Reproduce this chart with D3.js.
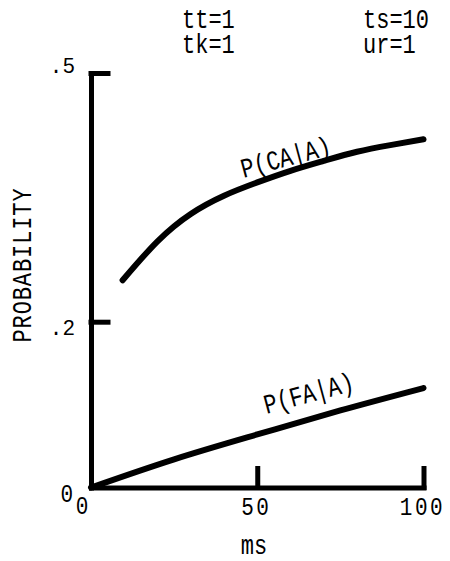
<!DOCTYPE html>
<html>
<head>
<meta charset="utf-8">
<script src="https://cdn.jsdelivr.net/npm/d3@7"></script>
<style>
  html, body { margin: 0; padding: 0; background: #fff; }
  svg text { font-family: "Liberation Mono", "DejaVu Sans Mono", monospace; fill: #000; }
</style>
</head>
<body>
<svg id="chart" width="450" height="561"></svg>
<script>
// data
var msCA = [9.5, 20, 30, 40, 50, 60, 70, 80, 90, 100];
var pCA = [0.250, 0.297, 0.330, 0.352, 0.368, 0.382, 0.394, 0.405, 0.413, 0.420];
var msFA = [0, 25, 50, 75, 100];
var pFA = [0, 0.034, 0.064, 0.093, 0.120];
var yTicks = [0.2, 0.5];
var yTickLabels = ['.2', '.5'];
var xTicks = [50, 100];
var xTickLabels = ['50', '100'];
var params = [['tt=1', 'tk=1'], ['ts=10', 'ur=1']];

var svg = d3.select('#chart');

var x = d3.scaleLinear().domain([0, 100]).range([91, 423.5]);
var y = d3.scaleLinear().domain([0, 0.5]).range([487.5, 73]);

// text with a taller glyph, like the plotter font
function label(text, px, py, opts) {
    opts = opts || {};
    var t = svg.append('text')
        .attr('transform', 'translate(' + px + ',' + py + ') rotate(' + (opts.rotate || 0) + ') scale(1,' + (opts.sy || 1.25) + ')')
        .attr('text-anchor', opts.anchor || 'start')
        .style('font-size', (opts.size || 22) + 'px')
        .text(text);
    if (opts.ls) t.style('letter-spacing', opts.ls + 'px');
    return t;
}

// axes, ticks point inward
svg.append('g')
    .attr('transform', 'translate(' + x(0) + ',0)')
    .call(d3.axisRight(y).tickValues(yTicks).tickSize(17).tickSizeOuter(0).tickFormat(''));
svg.append('g')
    .attr('transform', 'translate(0,' + y(0) + ')')
    .call(d3.axisTop(x).tickValues(xTicks).tickSize(19).tickSizeOuter(0).tickFormat(''));

svg.selectAll('.domain, .tick line')
    .attr('stroke', '#000')
    .attr('stroke-width', 5)
    .attr('stroke-linecap', 'square');

// curves
var line = d3.line()
    .x(function(d) { return x(d[0]); })
    .y(function(d) { return y(d[1]); })
    .curve(d3.curveNatural);

svg.append('path')
    .datum(d3.zip(msCA, pCA))
    .attr('d', line)
    .attr('fill', 'none')
    .attr('stroke', '#000')
    .attr('stroke-width', 6)
    .attr('stroke-linecap', 'round');

svg.append('path')
    .datum(d3.zip(msFA, pFA))
    .attr('d', line)
    .attr('fill', 'none')
    .attr('stroke', '#000')
    .attr('stroke-width', 6)
    .attr('stroke-linecap', 'round');

// curve labels
label('P(CA|A)', 288, 166, { anchor: 'middle', rotate: -15 });
label('P(FA|A)', 311, 402, { anchor: 'middle', rotate: -15 });

// tick labels
yTicks.forEach(function(v, i) {
    var dy = v === 0.5 ? 0 : 13;
    label(yTickLabels[i], 75, y(v) + dy, { anchor: 'end', size: 21, sy: 1.05 });
});
label('0', 73, y(0) + 14, { anchor: 'end', size: 21 });
label('0', 82, y(0) + 26, { anchor: 'middle', size: 21 });
xTicks.forEach(function(v, i) {
    label(xTickLabels[i], x(v) - 1, y(0) + 27.5, { anchor: 'middle', size: 21, ls: 2.5 });
});

// axis titles
label('ms', 254, 554, { anchor: 'middle', size: 22 });
label('PROBABILITY', 31, 265, { anchor: 'middle', rotate: -90, size: 22, ls: 0.9 });

// parameters at the top
params.forEach(function(col, c) {
    col.forEach(function(s, r) {
        label(s, c === 0 ? 182 : 363, 28 + r * 25, { size: 22 });
    });
});
</script>
</body>
</html>
